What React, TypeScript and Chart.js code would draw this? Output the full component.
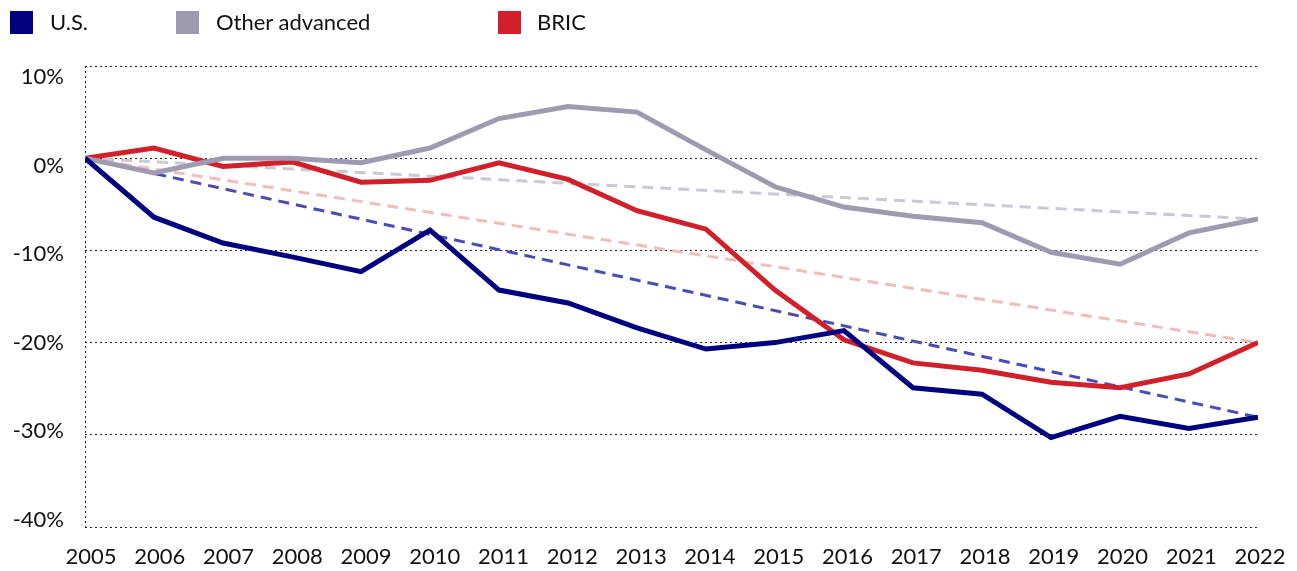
import React, { useEffect, useRef } from "react";
import { Chart, registerables } from "chart.js";

Chart.register(...registerables);

const years = [2005, 2006, 2007, 2008, 2009, 2010, 2011, 2012, 2013, 2014, 2015, 2016, 2017, 2018, 2019, 2020, 2021, 2022];
const usValues = [0, -6.4, -9.2, -10.7, -12.3, -7.8, -14.3, -15.7, -18.4, -20.7, -20.0, -18.7, -24.9, -25.6, -30.3, -28.0, -29.3, -28.1];
const otherAdvancedValues = [0, -1.6, 0, 0, -0.5, 1.1, 4.3, 5.6, 5.0, 0.9, -3.1, -5.3, -6.3, -7.0, -10.2, -11.5, -8.1, -6.6];
const bricValues = [0, 1.1, -0.9, -0.4, -2.6, -2.4, -0.5, -2.3, -5.7, -7.7, -14.3, -19.7, -22.2, -23.0, -24.3, -24.9, -23.4, -20.0];
const seriesNames = ["U.S.", "Other advanced", "BRIC"];
const seriesColors = ["#000080", "#9e9bb0", "#d2202a"];
const trendColors = ["#4b4bb5", "#c9c9d3", "#f3bcbc"];
const yTickValues = [10, 0, -10, -20, -30, -40];
const yMin = -40;
const yMax = 10;
const yStep = 10;

const FONT = "Lato, 'DejaVu Sans', sans-serif";

function toPoints(vals: number[]) {
  return years.map((yr, i) => ({ x: yr, y: vals[i] }));
}
function trendPoints(vals: number[]) {
  return [
    { x: years[0], y: vals[0] },
    { x: years[years.length - 1], y: vals[vals.length - 1] },
  ];
}

const axisTextPlugin = {
  id: "axisText",
  beforeDatasetsDraw(chart: any) {
    const { ctx, chartArea } = chart;
    ctx.save();
    ctx.strokeStyle = "#222";
    ctx.lineWidth = 1;
    ctx.setLineDash([2, 3]);
    ctx.beginPath();
    ctx.moveTo(chartArea.left + 0.5, chartArea.top);
    ctx.lineTo(chartArea.left + 0.5, chartArea.bottom);
    ctx.stroke();
    ctx.restore();
  },
  afterDraw(chart: any) {
    const { ctx, chartArea } = chart;
    const xs = chart.scales.x;
    const ys = chart.scales.y;
    ctx.save();
    ctx.fillStyle = "#111";
    ctx.font = `22px ${FONT}`;
    ctx.textBaseline = "middle";
    ctx.textAlign = "right";
    const h = chartArea.bottom - chartArea.top;
    yTickValues.forEach((v) => {
      const py = ys.getPixelForValue(v);
      const ly = py + 11 - 18 * (py - chartArea.top) / h;
      ctx.fillText(v + "%", chartArea.left - 21, ly);
    });
    ctx.textAlign = "center";
    const w = chartArea.right - chartArea.left;
    years.forEach((yr) => {
      const px = xs.getPixelForValue(yr);
      const lx = px + 6 - 4 * (px - chartArea.left) / w;
      ctx.fillText(String(yr), lx, chartArea.bottom + 30);
    });
    ctx.restore();
  },
};

export default function App() {
  const ref = useRef<HTMLCanvasElement | null>(null);

  useEffect(() => {
    if (!ref.current) return;
    const all = [usValues, otherAdvancedValues, bricValues];
    const datasets: any[] = [];
    all.forEach((vals, i) => {
      datasets.push({
        label: seriesNames[i],
        data: toPoints(vals),
        borderColor: seriesColors[i],
        backgroundColor: seriesColors[i],
        borderWidth: 5,
        pointRadius: 0,
        tension: 0,
        fill: false,
        order: i + 1,
      });
    });
    all.forEach((vals, i) => {
      datasets.push({
        label: seriesNames[i] + " trend",
        data: trendPoints(vals),
        borderColor: trendColors[i],
        borderWidth: 3,
        borderDash: [11, 7],
        pointRadius: 0,
        fill: false,
        order: 10 + i,
      });
    });

    const chart = new Chart(ref.current, {
      type: "line",
      data: { datasets },
      options: {
        animation: false,
        responsive: false,
        maintainAspectRatio: false,
        layout: { padding: { top: 66, right: 39, bottom: 0, left: 0 } },
        plugins: {
          legend: { display: false },
          tooltip: { enabled: false },
        },
        scales: {
          x: {
            type: "linear",
            min: years[0],
            max: years[years.length - 1],
            grid: { display: false, drawTicks: false },
            border: { display: false },
            afterFit: (s: any) => {
              s.height = 44;
            },
            ticks: { display: false, stepSize: 1 },
          },
          y: {
            min: yMin,
            max: yMax,
            grid: { color: "#222", lineWidth: 1, drawTicks: false },
            border: { display: false, dash: [2, 3] },
            afterFit: (s: any) => {
              s.width = 85;
            },
            ticks: { display: false, stepSize: yStep },
          },
        },
      },
      plugins: [axisTextPlugin],
    } as any);
    // dotted gridlines
    (chart.options.scales as any).y.grid.tickBorderDash = [2, 3];
    (chart.options.scales as any).y.border.dash = [2, 3];
    chart.update();

    return () => chart.destroy();
  }, []);

  const legendItems = [
    { box: 10, text: 50 },
    { box: 176, text: 216 },
    { box: 498, text: 537 },
  ];

  return (
    <div style={{ position: "fixed", left: 0, top: 0, width: 1297, height: 571, background: "#fff", fontFamily: FONT }}>
      <canvas ref={ref} width={1297} height={571} style={{ position: "absolute", left: 0, top: 0, width: 1297, height: 571 }} />
      {legendItems.map((it, i) => (
        <React.Fragment key={i}>
          <div style={{ position: "absolute", left: it.box, top: 11, width: 23, height: 23, background: seriesColors[i] }} />
          <div style={{ position: "absolute", left: it.text, top: 8, fontSize: 22, lineHeight: "28px", color: "#111", whiteSpace: "nowrap" }}>
            {seriesNames[i]}
          </div>
        </React.Fragment>
      ))}
    </div>
  );
}
